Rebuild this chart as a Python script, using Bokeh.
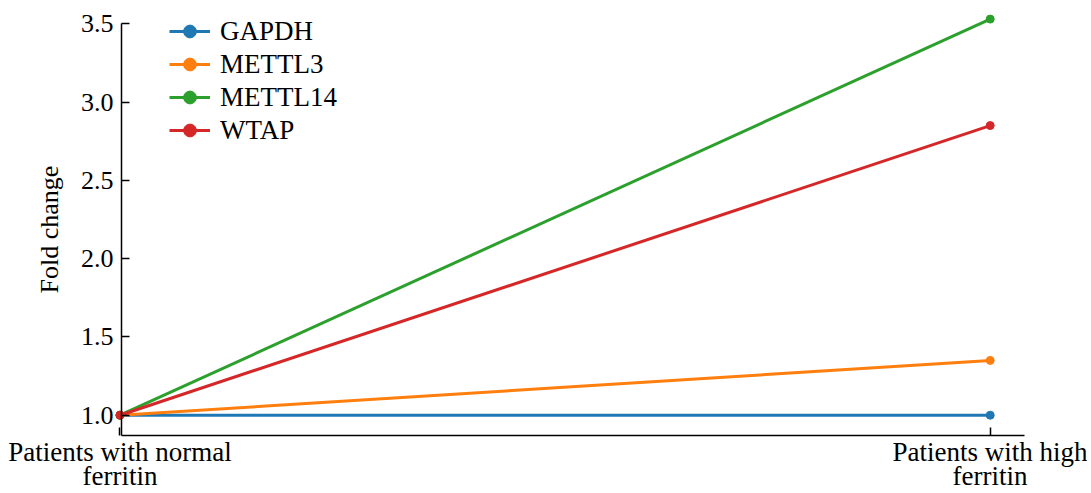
from bokeh.plotting import figure
from bokeh.models import Range1d, FixedTicker, Legend, LegendItem, NumeralTickFormatter
from bokeh.embed import file_html
from bokeh.resources import INLINE

groups = ["Patients with normal\nferritin", "Patients with high\nferritin"]
group_x = [0, 1]
series_names = ["GAPDH", "METTL3", "METTL14", "WTAP"]
gapdh = [1.0, 1.0]
mettl3 = [1.0, 1.35]
mettl14 = [1.0, 3.53]
wtap = [1.0, 2.85]
colors = ["#1f77b4", "#ff7f0e", "#2ca02c", "#d62728"]
y_ticks = [1.0, 1.5, 2.0, 2.5, 3.0, 3.5]

FONT = "Liberation Serif"
X_START, X_END = -0.1373, 1.1118
Y_START, Y_END = 0.5127, 3.6488
X_AXIS_AT = 0.8703     # where the horizontal axis sits (y)
Y_AXIS_AT = 0.0017     # where the vertical axis sits (x)
X_AXIS_END = 1.0394

p = figure(width=1087, height=491, output_backend="svg", toolbar_location=None,
           x_range=Range1d(X_START, X_END), y_range=Range1d(Y_START, Y_END),
           min_border_left=0, min_border_right=0, min_border_top=0, min_border_bottom=0)
p.outline_line_color = None
p.grid.visible = False
p.background_fill_color = "white"

items = []
for name, vals, c in zip(series_names, [gapdh, mettl3, mettl14, wtap], colors):
    r1 = p.line(group_x, vals, line_color=c, line_width=3)
    r2 = p.scatter(group_x, vals, size=8, fill_color=c, line_color=c)
    items.append(LegendItem(label=name, renderers=[r1, r2]))

legend = Legend(items=items, location=(169, 345), padding=0, margin=0, spacing=1,
                glyph_width=41, glyph_height=32, label_height=32, label_standoff=10,
                border_line_alpha=0, background_fill_alpha=0,
                label_text_font=FONT, label_text_font_size="27px", label_text_color="black")
p.add_layout(legend)

for ax in (p.xaxis[0], p.yaxis[0]):
    ax.axis_line_color = "black"
    ax.axis_line_width = 1.5
    ax.major_tick_line_color = "black"
    ax.major_tick_line_width = 1.5
    ax.major_tick_in = 8
    ax.major_tick_out = 0
    ax.minor_tick_line_color = None
    ax.major_label_text_font = FONT
    ax.major_label_text_color = "black"

p.yaxis.fixed_location = Y_AXIS_AT
p.yaxis.ticker = FixedTicker(ticks=y_ticks)
p.yaxis.formatter = NumeralTickFormatter(format="0.0")
p.yaxis.bounds = (X_AXIS_AT, 3.5)
p.yaxis.major_label_text_font_size = "26px"
p.yaxis.major_label_standoff = 8
p.yaxis.axis_label = "Fold change"
p.yaxis.axis_label_text_font = FONT
p.yaxis.axis_label_text_font_size = "26px"
p.yaxis.axis_label_text_font_style = "normal"
p.yaxis.axis_label_text_color = "black"
p.yaxis.axis_label_standoff = 14

p.xaxis.fixed_location = X_AXIS_AT
p.xaxis.ticker = FixedTicker(ticks=group_x)
p.xaxis.bounds = (Y_AXIS_AT, X_AXIS_END)
p.xaxis.major_label_overrides = {x: g for x, g in zip(group_x, groups)}
p.xaxis.major_label_text_font_size = "27px"
p.xaxis.major_label_text_line_height = 0.82
p.xaxis.major_label_standoff = 1

open("out.html", "w").write(file_html(p, INLINE))
